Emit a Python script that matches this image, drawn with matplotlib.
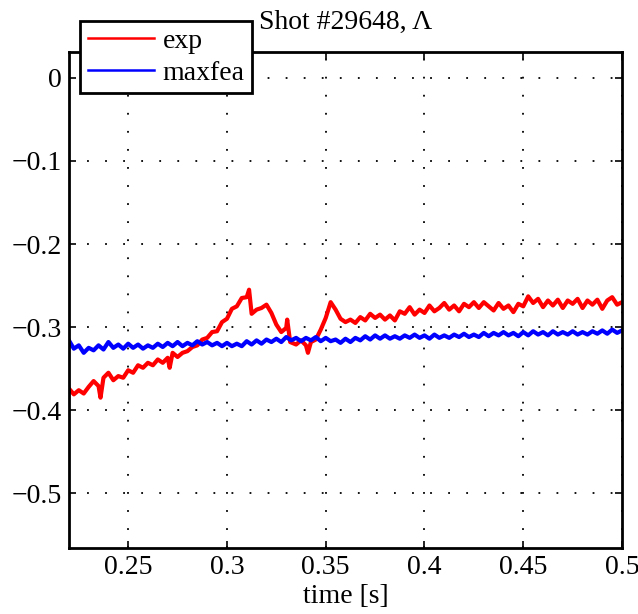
import numpy as np
import matplotlib
matplotlib.use('Agg')
import matplotlib.pyplot as plt

plt.rcParams['font.family'] = ['Liberation Serif', 'DejaVu Serif']
plt.rcParams['mathtext.fontset'] = 'stix'

# exp trace: time [s] and value
exp_t = [0.2200, 0.2225, 0.2250, 0.2275, 0.2300, 0.2325, 0.2350, 0.2360, 0.2375, 0.2400,
         0.2425, 0.2450, 0.2475, 0.2500, 0.2525, 0.2550, 0.2575, 0.2600, 0.2625, 0.2650,
         0.2675, 0.2700, 0.2710, 0.2725, 0.2750, 0.2775, 0.2800, 0.2825, 0.2850, 0.2875,
         0.2900, 0.2925, 0.2950, 0.2975, 0.3000, 0.3025, 0.3050, 0.3075, 0.3100, 0.3112,
         0.3125, 0.3150, 0.3175, 0.3200, 0.3225, 0.3250, 0.3275, 0.3300, 0.3305, 0.3320,
         0.3350, 0.3375, 0.3400, 0.3410, 0.3425, 0.3450, 0.3475, 0.3500, 0.3525, 0.3550,
         0.3575, 0.3600, 0.3625, 0.3650, 0.3675, 0.3700, 0.3725, 0.3750, 0.3775, 0.3800,
         0.3825, 0.3850, 0.3875, 0.3900, 0.3925, 0.3950, 0.3975, 0.4000, 0.4025, 0.4050,
         0.4075, 0.4100, 0.4125, 0.4150, 0.4175, 0.4200, 0.4225, 0.4250, 0.4275, 0.4300,
         0.4325, 0.4350, 0.4375, 0.4400, 0.4425, 0.4450, 0.4475, 0.4500, 0.4525, 0.4550,
         0.4575, 0.4600, 0.4625, 0.4650, 0.4675, 0.4700, 0.4725, 0.4750, 0.4775, 0.4800,
         0.4825, 0.4850, 0.4875, 0.4900, 0.4925, 0.4950, 0.4975, 0.5000]
exp_v = [-0.374, -0.381, -0.376, -0.380, -0.372, -0.365, -0.371, -0.385, -0.361, -0.355,
         -0.364, -0.359, -0.361, -0.352, -0.355, -0.346, -0.349, -0.343, -0.346, -0.339,
         -0.343, -0.337, -0.349, -0.331, -0.336, -0.331, -0.329, -0.324, -0.322, -0.315,
         -0.313, -0.306, -0.305, -0.294, -0.290, -0.278, -0.275, -0.265, -0.264, -0.255,
         -0.284, -0.279, -0.277, -0.273, -0.283, -0.297, -0.306, -0.301, -0.291, -0.318,
         -0.321, -0.316, -0.322, -0.331, -0.318, -0.315, -0.303, -0.289, -0.270, -0.279,
         -0.290, -0.294, -0.291, -0.295, -0.288, -0.292, -0.284, -0.289, -0.285, -0.291,
         -0.286, -0.292, -0.281, -0.284, -0.276, -0.285, -0.279, -0.283, -0.274, -0.281,
         -0.277, -0.271, -0.279, -0.274, -0.281, -0.272, -0.276, -0.270, -0.277, -0.270,
         -0.275, -0.280, -0.271, -0.278, -0.274, -0.282, -0.272, -0.275, -0.263, -0.271,
         -0.266, -0.276, -0.268, -0.274, -0.267, -0.277, -0.268, -0.272, -0.266, -0.277,
         -0.268, -0.273, -0.267, -0.278, -0.268, -0.264, -0.273, -0.270]

# maxfea trace
fea_t = [0.2200, 0.2225, 0.2250, 0.2275, 0.2300, 0.2325, 0.2350, 0.2375, 0.2400, 0.2425,
         0.2450, 0.2475, 0.2500, 0.2525, 0.2550, 0.2575, 0.2600, 0.2625, 0.2650, 0.2675,
         0.2700, 0.2725, 0.2750, 0.2775, 0.2800, 0.2825, 0.2850, 0.2875, 0.2900, 0.2925,
         0.2950, 0.2975, 0.3000, 0.3025, 0.3050, 0.3075, 0.3100, 0.3125, 0.3150, 0.3175,
         0.3200, 0.3225, 0.3250, 0.3275, 0.3300, 0.3325, 0.3350, 0.3375, 0.3400, 0.3425,
         0.3450, 0.3475, 0.3500, 0.3525, 0.3550, 0.3575, 0.3600, 0.3625, 0.3650, 0.3675,
         0.3700, 0.3725, 0.3750, 0.3775, 0.3800, 0.3825, 0.3850, 0.3875, 0.3900, 0.3925,
         0.3950, 0.3975, 0.4000, 0.4025, 0.4050, 0.4075, 0.4100, 0.4125, 0.4150, 0.4175,
         0.4200, 0.4225, 0.4250, 0.4275, 0.4300, 0.4325, 0.4350, 0.4375, 0.4400, 0.4425,
         0.4450, 0.4475, 0.4500, 0.4525, 0.4550, 0.4575, 0.4600, 0.4625, 0.4650, 0.4675,
         0.4700, 0.4725, 0.4750, 0.4775, 0.4800, 0.4825, 0.4850, 0.4875, 0.4900, 0.4925,
         0.4950, 0.4975, 0.5000]
fea_v = [-0.316, -0.326, -0.322, -0.331, -0.325, -0.328, -0.322, -0.327, -0.318, -0.325,
         -0.321, -0.326, -0.320, -0.325, -0.321, -0.326, -0.322, -0.325, -0.320, -0.324,
         -0.319, -0.323, -0.318, -0.323, -0.319, -0.322, -0.317, -0.321, -0.318, -0.322,
         -0.319, -0.323, -0.319, -0.323, -0.320, -0.323, -0.317, -0.321, -0.316, -0.320,
         -0.315, -0.318, -0.314, -0.318, -0.312, -0.316, -0.313, -0.317, -0.313, -0.316,
         -0.312, -0.317, -0.313, -0.317, -0.315, -0.319, -0.314, -0.318, -0.313, -0.316,
         -0.311, -0.315, -0.310, -0.314, -0.310, -0.314, -0.311, -0.314, -0.310, -0.313,
         -0.309, -0.313, -0.310, -0.314, -0.309, -0.313, -0.310, -0.313, -0.309, -0.312,
         -0.308, -0.312, -0.309, -0.312, -0.307, -0.311, -0.307, -0.310, -0.306, -0.310,
         -0.307, -0.311, -0.306, -0.310, -0.305, -0.309, -0.306, -0.310, -0.305, -0.309,
         -0.306, -0.309, -0.305, -0.309, -0.306, -0.309, -0.305, -0.308, -0.304, -0.308,
         -0.303, -0.307, -0.304]

x_ticks = [0.25, 0.3, 0.35, 0.4, 0.45, 0.5]
x_labels = ['0.25', '0.3', '0.35', '0.4', '0.45', '0.5']
y_ticks = [-0.5, -0.4, -0.3, -0.2, -0.1, 0]
y_labels = ['\u22120.5', '\u22120.4', '\u22120.3', '\u22120.2', '\u22120.1', '0']

fig = plt.figure(figsize=(6.38, 6.14), dpi=100)
ax = fig.add_axes([0.108, 0.1075, 0.867, 0.8075])

ax.plot(exp_t, exp_v, color='#ff0000', lw=3, label='exp')
ax.plot(fea_t, fea_v, color='#0000ff', lw=3, label='maxfea')

ax.set_xlim(0.22, 0.5)
ax.set_ylim(-0.566, 0.031)
ax.set_xticks(x_ticks)
ax.set_xticklabels(x_labels)
ax.set_yticks(y_ticks)
ax.set_yticklabels(y_labels)
ax.tick_params(direction='in', top=True, right=True, length=5, width=1.2,
               labelsize=20, pad=5)
ax.grid(True, color='black', linestyle=(0, (1, 9)), linewidth=1.3)
for s in ax.spines.values():
    s.set_linewidth(2)

ax.set_xlabel('time [s]', fontsize=20, labelpad=3)
ax.set_title('Shot #29648, \u039b', fontsize=20, pad=17)

leg = ax.legend(loc='upper left', bbox_to_anchor=(0.125, 0.966),
                bbox_transform=fig.transFigure, fontsize=20, fancybox=False,
                framealpha=1, edgecolor='black', handlelength=2.4,
                borderpad=0.28, labelspacing=0.22, handletextpad=0.3,
                borderaxespad=0)
leg.get_frame().set_linewidth(2)
for line in leg.get_lines():
    line.set_linewidth(1.8)

fig.savefig('out.png', dpi=100)
